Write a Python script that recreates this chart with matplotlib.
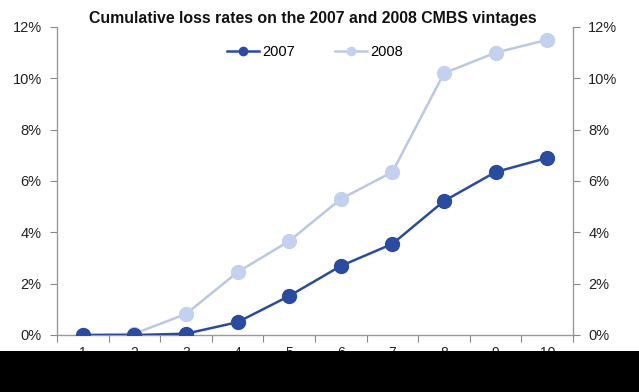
import matplotlib
matplotlib.use("Agg")
import matplotlib.pyplot as plt
from matplotlib.patches import Rectangle
from matplotlib.ticker import FuncFormatter, FixedLocator

years = [1, 2, 3, 4, 5, 6, 7, 8, 9, 10]
loss_2007 = [0.0, 0.0, 0.05, 0.5, 1.52, 2.69, 3.55, 5.22, 6.35, 6.9]
loss_2008 = [0.0, 0.05, 0.82, 2.45, 3.66, 5.3, 6.35, 10.2, 11.0, 11.5]
yticks = [0, 2, 4, 6, 8, 10, 12]
title = "Cumulative loss rates on the 2007 and 2008 CMBS vintages"

plt.rcParams['font.family'] = ['Liberation Sans', 'DejaVu Sans']

fig = plt.figure(figsize=(6.39, 3.92), dpi=100)
ax = fig.add_axes([57/639, 1-335/392, (573-57)/639, (335-27)/392])

c07 = '#2A4B9E'
c08 = '#C3D1EE'
c08l = '#BCC7E2'

ax.plot(years, loss_2008, color=c08l, lw=1.8, marker='o', ms=10,
        mfc=c08, mec=c08, label='2008', zorder=2)
ax.plot(years, loss_2007, color=c07, lw=1.8, marker='o', ms=10,
        mfc=c07, mec=c07, label='2007', zorder=3)

ax.set_xlim(0.5, 10.5)
ax.set_ylim(0, 12)
ax.set_yticks(yticks)
ax.yaxis.set_major_formatter(FuncFormatter(lambda v, p: f"{int(v)}%"))
ax.xaxis.set_major_locator(FixedLocator([x + 0.5 for x in [0] + years]))
ax.xaxis.set_minor_locator(FixedLocator(years))
ax.set_xticklabels([])
ax.set_xticklabels([str(y) for y in years], minor=True)
ax.tick_params(axis='x', which='major', length=5, color='#888888', direction='out')
ax.tick_params(axis='x', which='minor', length=0, labelsize=10, colors='#222222', pad=8)
ax.tick_params(axis='y', length=5, color='#888888', labelsize=10.5,
               labelcolor='#222222', left=True, right=True, labelleft=True, labelright=True, pad=6)

for s in ['left', 'right', 'bottom']:
    ax.spines[s].set_color('#999999')
    ax.spines[s].set_linewidth(1.0)
ax.spines['top'].set_visible(False)

fig.text(313/639, 1-19/392, title, ha='center', va='center',
         fontsize=11.4, fontweight='bold', color='#111111')

handles, labels = ax.get_legend_handles_labels()
leg = ax.legend(handles[::-1], labels[::-1], loc='center', bbox_to_anchor=(315/639, 1-52/392),
                bbox_transform=fig.transFigure, ncol=2, frameon=False, fontsize=10.5,
                markerscale=0.6, handlelength=2.2, handletextpad=0.2, columnspacing=2.8)

fig.patches.append(Rectangle((0, 0), 1, 41/392, transform=fig.transFigure,
                             facecolor='black', edgecolor='none', zorder=10))

fig.savefig('out.png', dpi=100)
